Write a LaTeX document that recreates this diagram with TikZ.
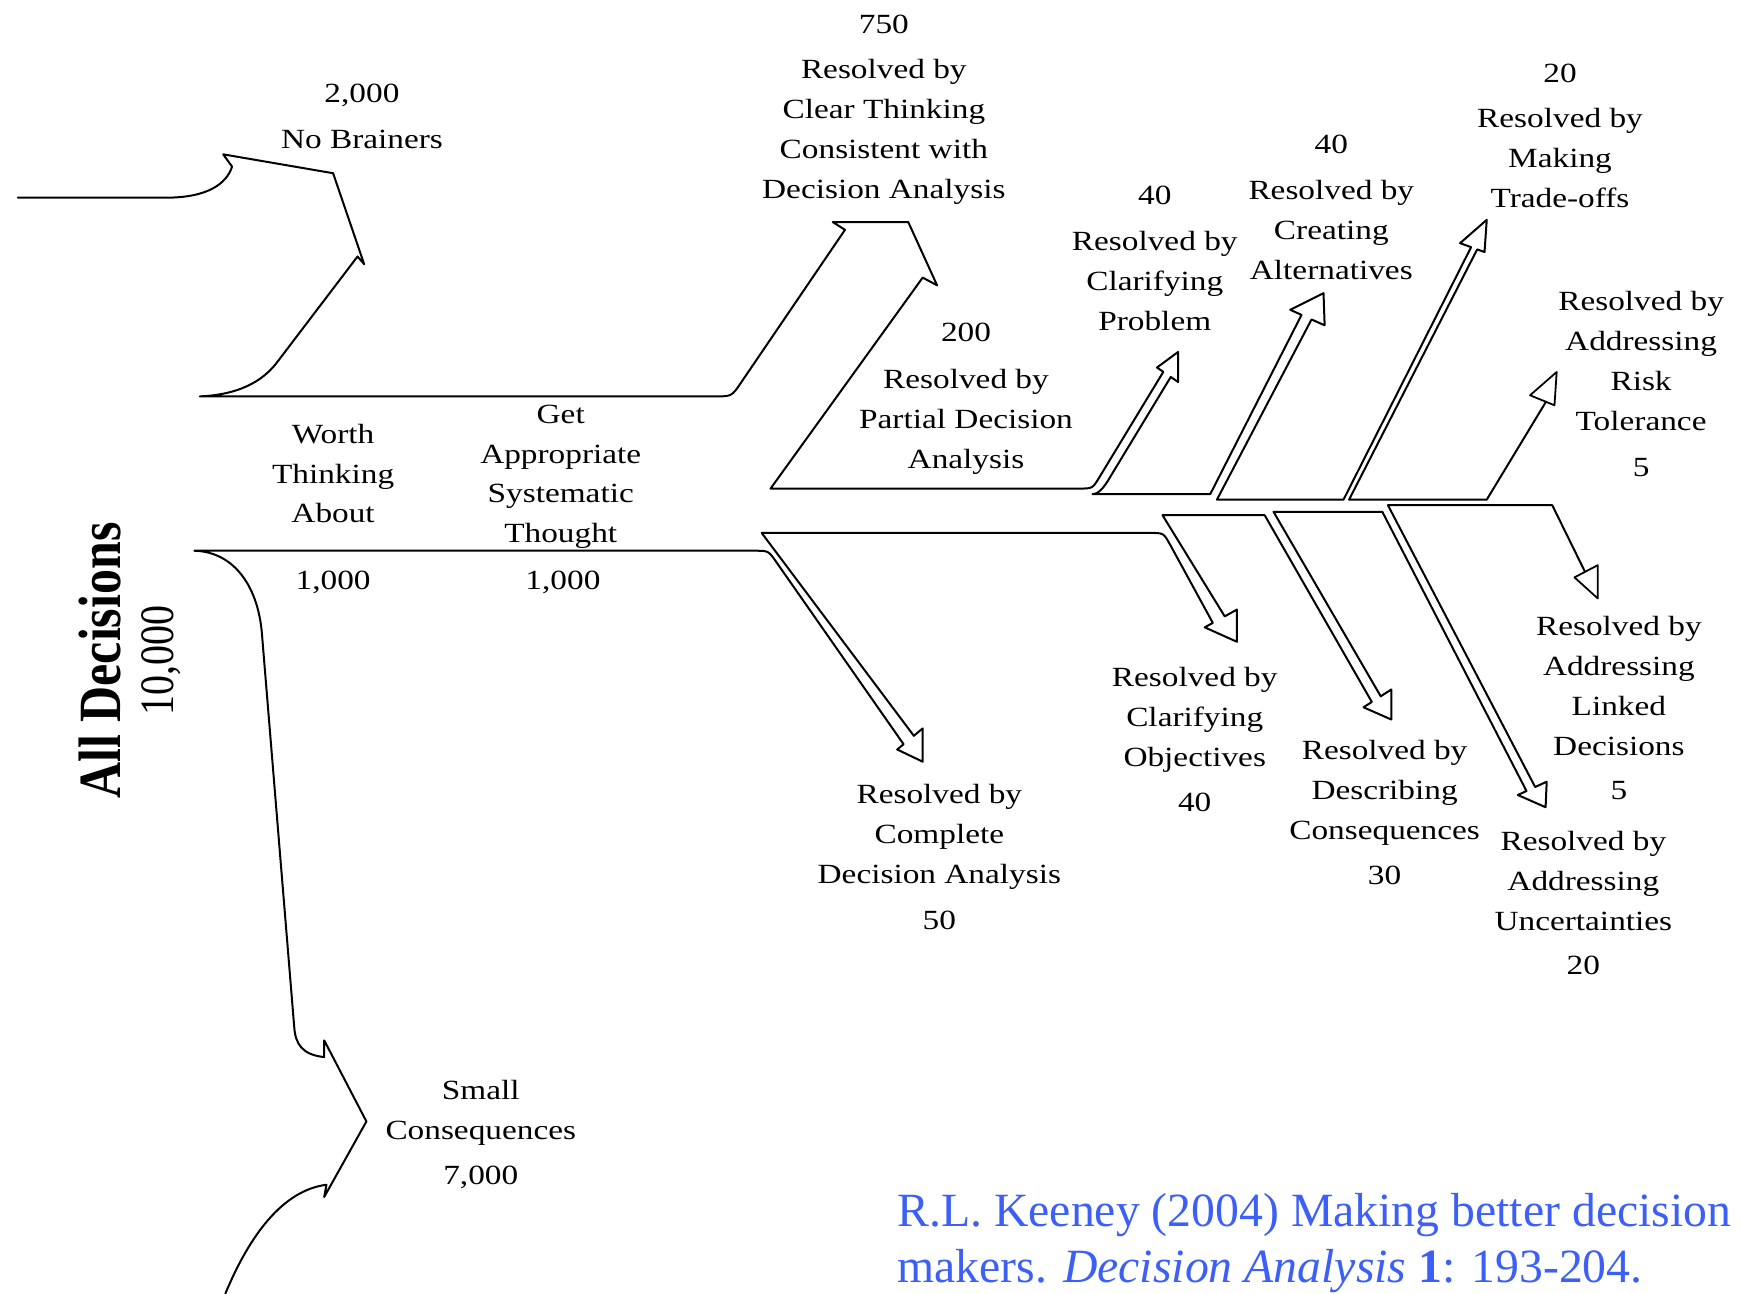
\documentclass[tikz,border=0pt]{standalone}
\usepackage{fontspec}
\setmainfont{Liberation Serif}
\usepackage{graphicx}
\usetikzlibrary{calc}
\definecolor{citeblue}{RGB}{60,95,245}
\newcommand\lab[1]{\scalebox{1.2}[1]{\begin{tabular}[t]{@{}c@{}}#1\end{tabular}}}
\begin{document}
\begin{tikzpicture}[x=1pt,y=-1pt,
  flow/.style={line width=1.8pt, line join=round, line cap=round},
  thinhead/.style={line width=1.6pt, line join=round},
  lbl/.style={font=\fontsize{25}{36}\selectfont, anchor=base, inner sep=0pt},
]
\useasboundingbox (0,0) rectangle (1568,1165);

% arrow heads: A = barb on outer side, T = tip, B = barb on inner side, O/I = notches
\coordinate (cpA) at (1042,331);   \coordinate (cpT) at (1061,317);   \coordinate (cpB) at (1061,344);
\coordinate (cpO) at (1047.7,334.9); \coordinate (cpI) at (1054.4,339.5);
\coordinate (caA) at (1162,279);   \coordinate (caT) at (1192,264);   \coordinate (caB) at (1193,293);
\coordinate (caO) at (1172.2,283.6); \coordinate (caI) at (1181.2,287.7);
\coordinate (toA) at (1315,219);   \coordinate (toT) at (1339,198);   \coordinate (toB) at (1337,227);
\coordinate (toO) at (1324.9,222.6); \coordinate (toI) at (1330.4,224.6);
\coordinate (rtA) at (1378,356);   \coordinate (rtT) at (1402,335);   \coordinate (rtB) at (1400,365);
\coordinate (rtS) at (1392.3,361.9);
\coordinate (ldA) at (1418,520);   \coordinate (ldT) at (1439,539);   \coordinate (ldB) at (1439,509);
\coordinate (ldS) at (1427.5,515);
\coordinate (unA) at (1367,716);   \coordinate (unT) at (1392,727);   \coordinate (unB) at (1393,704);
\coordinate (unO) at (1374.8,712.4); \coordinate (unI) at (1382.6,708.8);
\coordinate (cqA) at (1228,637);   \coordinate (cqT) at (1253,648);   \coordinate (cqB) at (1253,621);
\coordinate (cqO) at (1235.5,632.2); \coordinate (cqI) at (1243.5,627.1);
\coordinate (obA) at (1085,565);   \coordinate (obT) at (1114,578);   \coordinate (obB) at (1114,549);
\coordinate (obO) at (1092.3,561); \coordinate (obI) at (1103,555.1);
\coordinate (cdA) at (808,675);    \coordinate (cdT) at (831,686);    \coordinate (cdB) at (831,656);
\coordinate (cdO) at (813.8,670.3); \coordinate (cdI) at (823,662.7);

% upper outline: no brainers, 750, and the upward branches of the 200 flow
\draw[flow] (16,178) -- (150,178)
  .. controls (186,178) and (204,166) .. (209,150)
  -- (201,139) -- (300,156) -- (328,238) -- (322,231) -- (249,327)
  .. controls (232,349) and (205,356) .. (180,357)
  -- (644,357) .. controls (659,357) .. (667.4,344.6)
  -- (761,207) -- (750,200) -- (818,200) -- (844,257) -- (831,250) -- (694,440)
  -- (972,440) .. controls (984,440) .. (990.2,429.7)
  -- (cpO) -- (cpA) -- (cpT) -- (cpB) -- (cpI) -- (1000.8,428)
  .. controls (995,438) and (990,445) .. (984,445)
  -- (1090,445) -- (caO) -- (caA) -- (caT) -- (caB) -- (caI) -- (1096,450)
  -- (1210,450) -- (toO) -- (toA) -- (toT) -- (toB) -- (toI) -- (1215,450)
  -- (1339,450) -- (rtS);
\draw[thinhead] (rtA) -- (rtT) -- (rtB) -- cycle;

% lower outline: small consequences, complete analysis, and the downward branches
\draw[flow] (203,1165) .. controls (225,1112) and (255,1072) .. (294,1067)
  -- (292,1078) -- (330,1010) -- (292,937) -- (292,952)
  .. controls (272,950) and (266,940) .. (265,925)
  -- (236,572) .. controls (233,530) and (212,497) .. (175,496)
  -- (680,496) .. controls (692,496) .. (698.9,505.8)
  -- (cdO) -- (cdA) -- (cdT) -- (cdB) -- (cdI) -- (686,480)
  -- (1036,480) .. controls (1048,480) .. (1053.8,490.5)
  -- (obO) -- (obA) -- (obT) -- (obB) -- (obI) -- (1047,464)
  -- (1139,464) -- (cqO) -- (cqA) -- (cqT) -- (cqB) -- (cqI) -- (1147,461)
  -- (1245,461) -- (unO) -- (unA) -- (unT) -- (unB) -- (unI) -- (1250,455)
  -- (1398,455) -- (ldS);
\draw[thinhead] (ldA) -- (ldT) -- (ldB) -- cycle;

% labels
\node[lbl] (nb) at (326,92) {\lab{2,000\\[6pt] No Brainers}};
\node[lbl] (cl) at (796,30) {\lab{750\\[5pt] Resolved by\\ Clear Thinking\\ Consistent with\\ Decision Analysis}};
\node[lbl] (cpL) at (1040,184) {\lab{40\\[6pt] Resolved by\\ Clarifying\\ Problem}};
\node[lbl] (caL) at (1199,138) {\lab{40\\[6pt] Resolved by\\ Creating\\ Alternatives}};
\node[lbl] (toL) at (1405,74) {\lab{20\\[5pt] Resolved by\\ Making\\ Trade-offs}};
\node[lbl] (rtL) at (1478,280) {\lab{Resolved by\\ Addressing\\ Risk\\ Tolerance\\[5pt] 5}};
\node[lbl] (pdL) at (870,308) {\lab{200\\[6pt] Resolved by\\ Partial Decision\\ Analysis}};
\node[lbl] (wt) at (300,399) {\lab{Worth\\ Thinking\\ About}};
\node[lbl] (wtn) at (300,531) {\lab{1,000}};
\node[lbl] (ga) at (505,381) {\lab{Get\\ Appropriate\\ Systematic\\ Thought}};
\node[lbl] (gan) at (507,531) {\lab{1,000}};
\node[lbl] (cdL) at (846,724) {\lab{Resolved by\\ Complete\\ Decision Analysis\\[5pt] 50}};
\node[lbl] (obL) at (1076,618) {\lab{Resolved by\\ Clarifying\\ Objectives\\[5pt] 40}};
\node[lbl] (cqL) at (1247,684) {\lab{Resolved by\\ Describing\\ Consequences\\[5pt] 30}};
\node[lbl] (ldL) at (1458,572) {\lab{Resolved by\\ Addressing\\ Linked\\ Decisions\\[4pt] 5}};
\node[lbl] (unL) at (1426,766) {\lab{Resolved by\\ Addressing\\ Uncertainties\\[4pt] 20}};
\node[lbl] (scL) at (433,990) {\lab{Small\\ Consequences\\[5pt] 7,000}};
\node[rotate=90, inner sep=0pt, font=\fontsize{45}{54}\selectfont\bfseries] (ad) at (90,595) {\scalebox{1}[1.2]{All Decisions}};
\node[rotate=90, inner sep=0pt, font=\fontsize{36}{42}\selectfont] (adn) at (145,595) {\scalebox{1}[1.2]{10,000}};

\node[anchor=base west, inner sep=0pt, text=citeblue, font=\fontsize{43}{50}\selectfont] (cite) at (808,1105)
  {\begin{tabular}[t]{@{}l@{}}R.L. Keeney (2004) Making better decision\\ makers. \textit{Decision Analysis} \textbf{1}: 193-204.\end{tabular}};
\end{tikzpicture}
\end{document}
